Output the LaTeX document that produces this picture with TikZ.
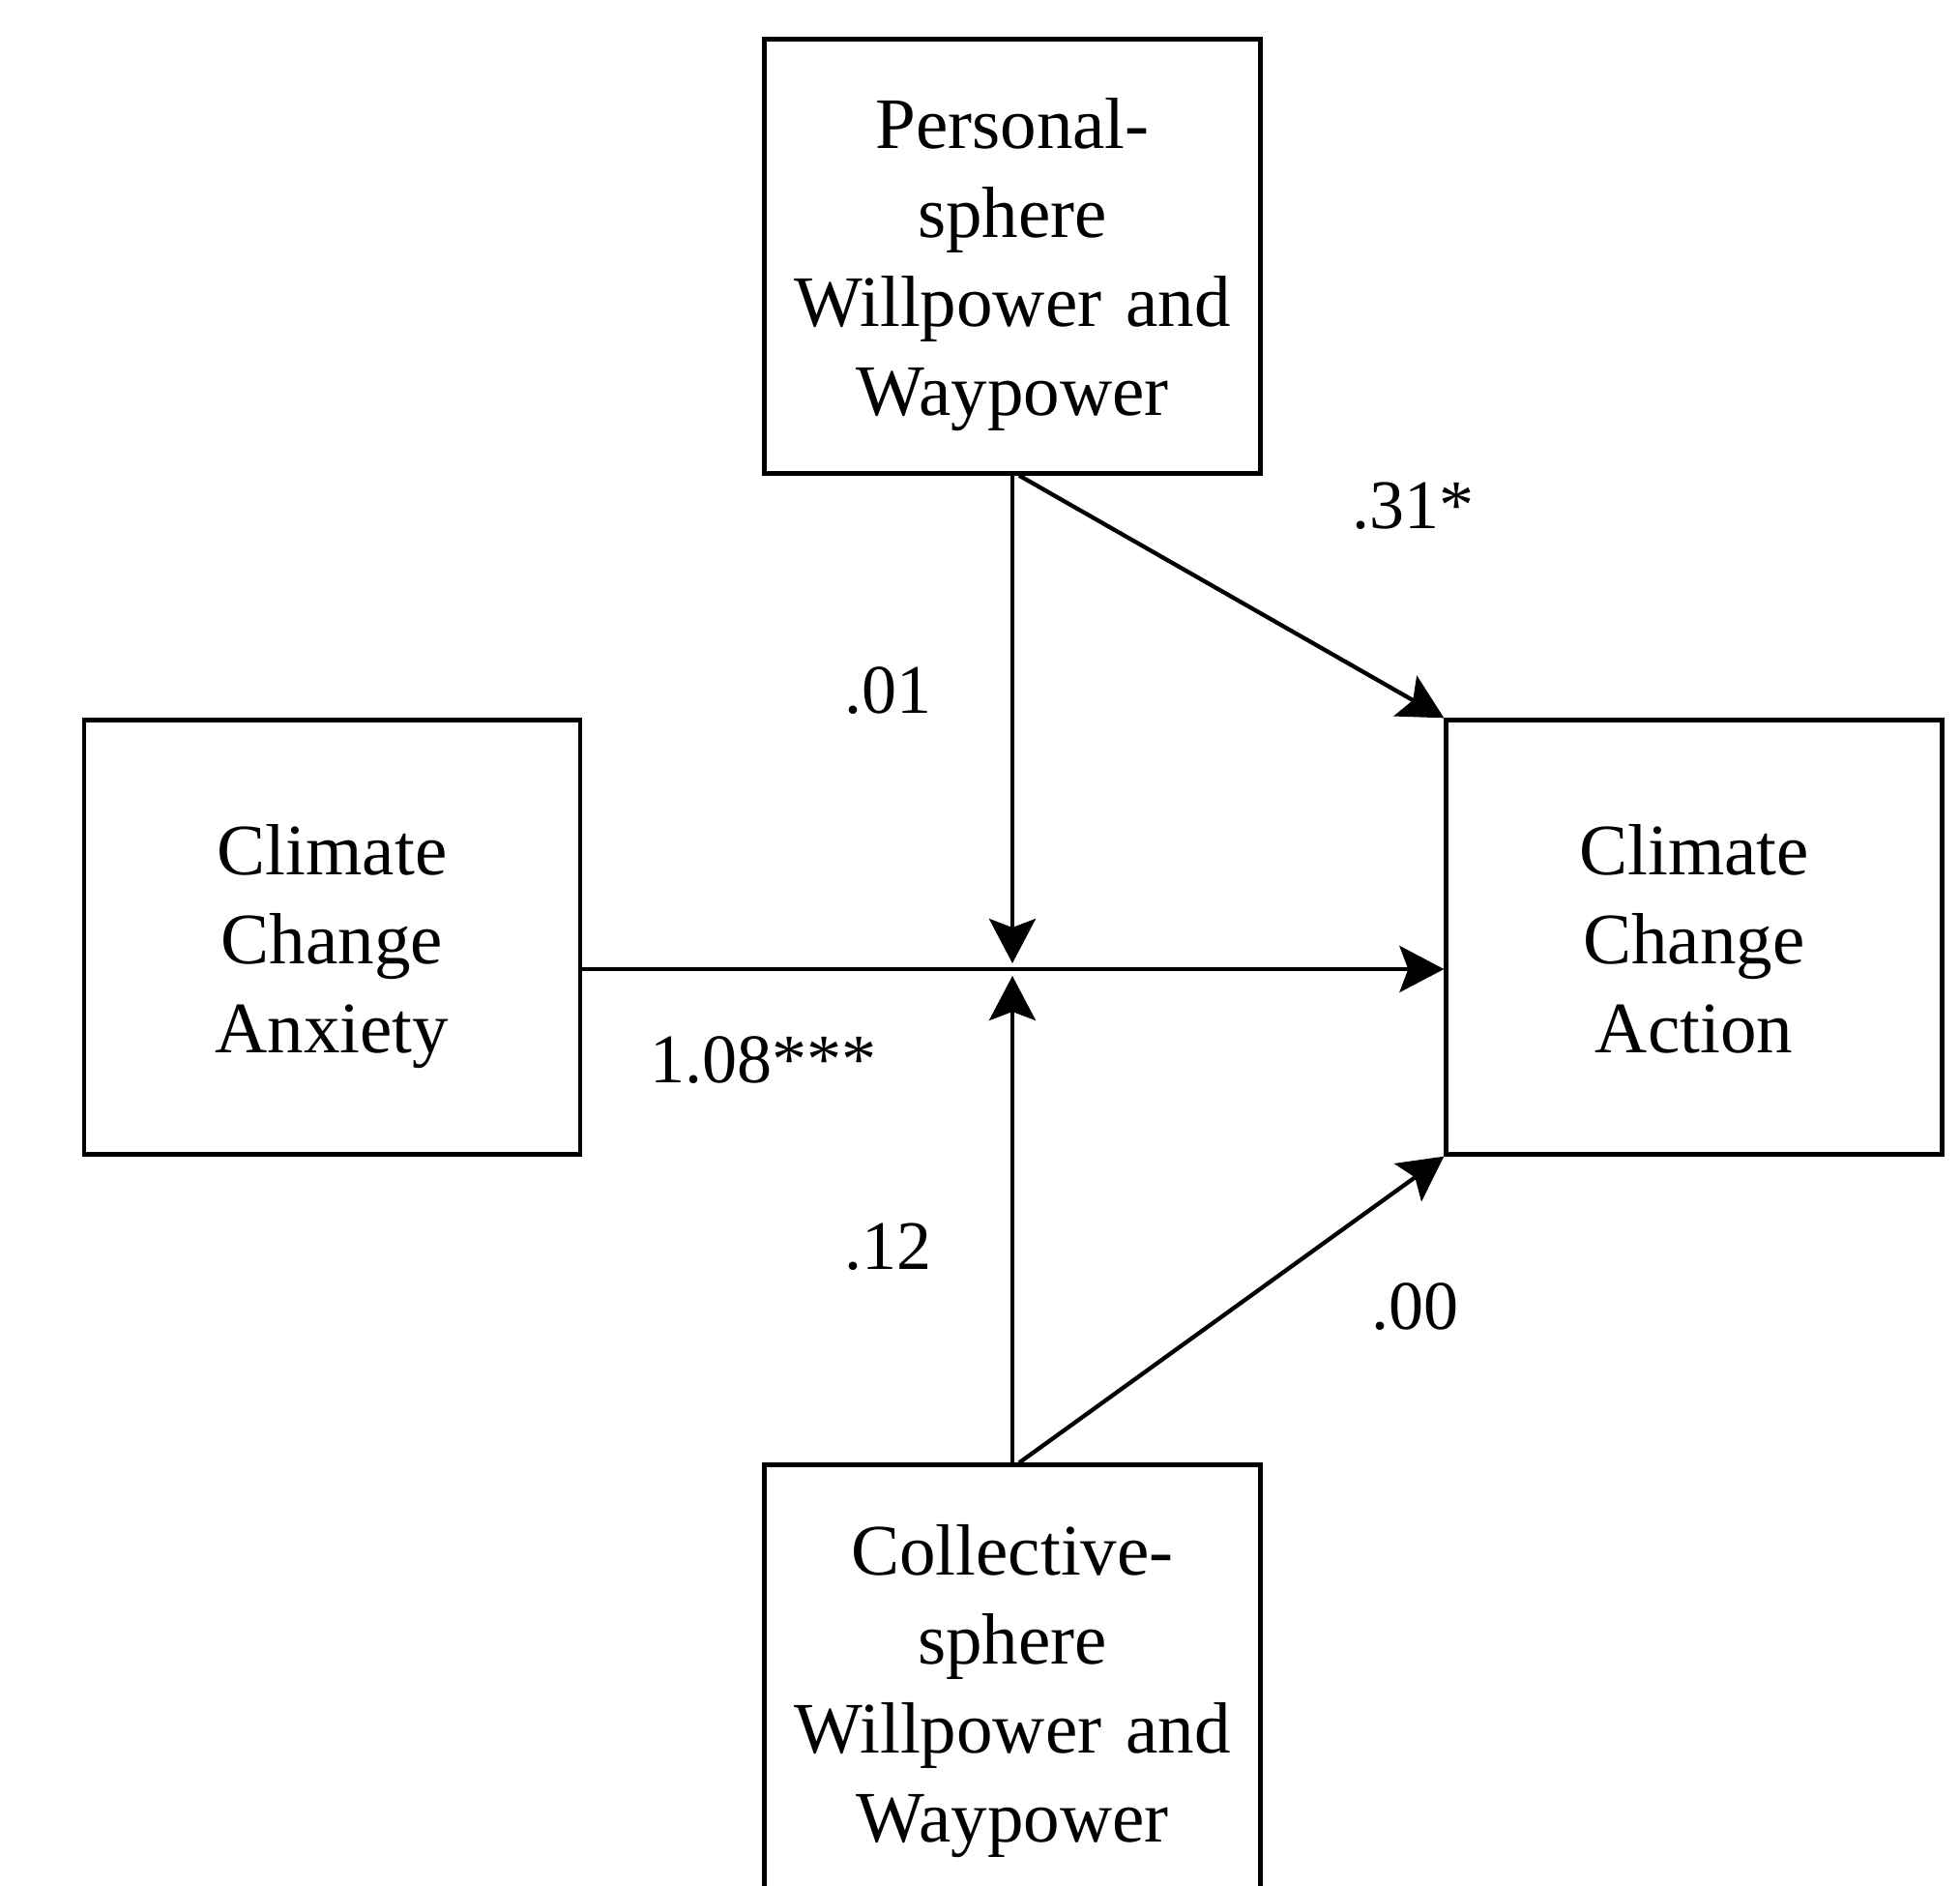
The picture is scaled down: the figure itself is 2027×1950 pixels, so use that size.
\documentclass[tikz,border=0pt]{standalone}
\usepackage{fontspec}
\setmainfont{Liberation Serif}
\usetikzlibrary{arrows.meta}
\newcommand\tstrut{\rule{0pt}{79pt}}
\newcommand\bstrut{\rule[-25pt]{0pt}{25pt}}
\begin{document}
\begin{tikzpicture}[x=1pt,y=-1pt,
  varbox/.style={draw,line width=4.3pt,minimum width=513pt,minimum height=449pt,inner sep=0pt,
    text width=490pt,align=center,font=\fontsize{75}{92}\selectfont},
  conn/.style={line width=4.3pt,-{Stealth[length=46pt,width=48pt,inset=9pt]}},
  coef/.style={font=\fontsize{72}{86}\selectfont,inner sep=0pt}]
\useasboundingbox (0,0) rectangle (2027,1950);
\node[varbox] (top) at (1047,265) {\tstrut Personal-\\sphere\\Willpower and\\Waypower\bstrut};
\node[varbox] (anx) at (343.5,969) {\tstrut Climate\\Change\\Anxiety\bstrut};
\node[varbox] (act) at (1752,969) {\tstrut Climate\\Change\\Action\bstrut};
\node[varbox] (bot) at (1047,1739) {\tstrut Collective-\\sphere\\Willpower and\\Waypower\bstrut};
\coordinate (j) at (1047,1002);
\coordinate (jd) at (1047,996);
\coordinate (ju) at (1047,1009);
\draw[conn] (anx.east |- j) -- (act.west |- j);
\draw[conn] (top.south) -- (jd);
\draw[conn] (bot.north) -- (ju);
\draw[conn] ([xshift=7pt]top.south) -- (act.north west);
\draw[conn] ([xshift=7pt]bot.north) -- (act.south west);
\node[coef] (l31) at (1461,523) {.31*};
\node[coef] (l01) at (918,714) {.01};
\node[coef] (l108) at (789,1096) {1.08***};
\node[coef] (l12) at (918,1289) {.12};
\node[coef] (l00) at (1463,1351) {.00};
\end{tikzpicture}
\end{document}
